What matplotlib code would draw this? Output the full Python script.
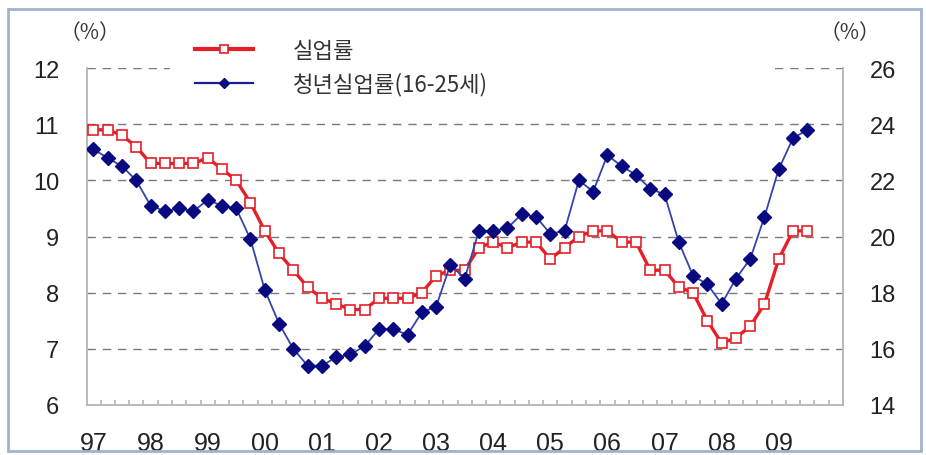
import matplotlib
matplotlib.use("Agg")
import matplotlib.pyplot as plt
from matplotlib.patches import Rectangle
from matplotlib.lines import Line2D
import numpy as np

# ---- data (quarterly, 1997Q1 - 2009Q3) ----
year_labels = ['97', '98', '99', '00', '01', '02', '03', '04', '05', '06', '07', '08', '09']
unemp = [10.9, 10.9, 10.8, 10.6, 10.3, 10.3, 10.3, 10.3, 10.4, 10.2, 10.0, 9.6,
         9.1, 8.7, 8.4, 8.1, 7.9, 7.8, 7.7, 7.7, 7.9, 7.9, 7.9, 8.0,
         8.3, 8.4, 8.4, 8.8, 8.9, 8.8, 8.9, 8.9, 8.6, 8.8, 9.0, 9.1,
         9.1, 8.9, 8.9, 8.4, 8.4, 8.1, 8.0, 7.5, 7.1, 7.2, 7.4, 7.8,
         8.6, 9.1, 9.1]
youth = [23.1, 22.8, 22.5, 22.0, 21.1, 20.9, 21.0, 20.9, 21.3, 21.1, 21.0, 19.9,
         18.1, 16.9, 16.0, 15.4, 15.4, 15.7, 15.8, 16.1, 16.7, 16.7, 16.5, 17.3,
         17.5, 19.0, 18.5, 20.2, 20.2, 20.3, 20.8, 20.7, 20.1, 20.2, 22.0, 21.6,
         22.9, 22.5, 22.2, 21.7, 21.5, 19.8, 18.6, 18.3, 17.6, 18.5, 19.2, 20.7,
         22.4, 23.5, 23.8]
label_unemp = '실업률'
label_youth = '청년실업률(16-25세)'
left_ticks = [6, 7, 8, 9, 10, 11, 12]
right_ticks = [14, 16, 18, 20, 22, 24, 26]

W, H = 926, 456
fig = plt.figure(figsize=(W / 100, H / 100), dpi=100)
fig.patch.set_facecolor('white')

L, R, T, B = 87, 843, 69, 406
ax = fig.add_axes([L / W, (H - B) / H, (R - L) / W, (B - T) / H])
ax2 = ax.twinx()

x = np.arange(len(unemp))
ax.set_xlim(-0.45, 52.5)
ax.set_ylim(6, 12)
ax2.set_ylim(14, 26)

red = '#e61e28'
ax.plot(x, unemp, color=red, lw=2.4, marker='s', ms=7.5, mfc='white',
        mec=red, mew=1.2, zorder=3)
ax2.plot(x, youth, color='#3444a8', lw=1.3, marker='D', ms=7, mfc='#0a0a80',
         mec='#0a0a80', zorder=3)

# grid
for v in left_ticks[1:]:
    ax.axhline(v, color='#7a7a7a', lw=1.0, ls=(0, (6, 5)), zorder=1)

# spines
gray = '#b4b4b4'
for s in ['left', 'right', 'bottom']:
    ax.spines[s].set_color(gray)
    ax.spines[s].set_linewidth(1.3)
ax.spines['top'].set_visible(False)
for s in ax2.spines.values():
    s.set_visible(False)

num_font = 'Liberation Sans'
ax.set_yticks(left_ticks)
ax.set_yticklabels([str(v) for v in left_ticks], fontsize=17, family=num_font, color='#222222')
ax.tick_params(axis='y', length=0, pad=20)
ax2.set_yticks(right_ticks)
ax2.set_yticklabels([str(v) for v in right_ticks], fontsize=17, family=num_font, color='#222222')
ax2.tick_params(axis='y', length=0, pad=19)

ax.set_xticks(np.arange(0, 4 * len(year_labels), 4))
ax.set_xticklabels(year_labels, fontsize=18, family=num_font, color='#222222')
ax.set_xticks(np.arange(0.5, 52, 1), minor=True)
ax.tick_params(axis='x', which='major', length=0, pad=19)
ax.tick_params(axis='x', which='minor', direction='in', length=3.5, width=1.2, color=gray)

# unit labels
cjk = ['Noto Sans CJK KR', 'DejaVu Sans']
fig.text(90 / W, (H - 33) / H, '（%）', ha='center', va='center', fontsize=15,
         family=cjk, color='#333333')
fig.text(850 / W, (H - 33) / H, '（%）', ha='center', va='center', fontsize=15,
         family=cjk, color='#333333')

# white patch behind legend covering top grid line
fig.patches.append(Rectangle((170 / W, (H - 105) / H), (774 - 170) / W, 70 / H,
                             transform=fig.transFigure, facecolor='white',
                             edgecolor='none', zorder=1))

handles = [Line2D([], [], color=red, lw=3, marker='s', ms=6, mfc='white', mec=red, mew=1.2),
           Line2D([], [], color='#1a2090', lw=1.6, marker='D', ms=5, mfc='#0a0a80', mec='#0a0a80')]
leg = fig.legend(handles, [label_unemp, label_youth], loc='center left',
                 bbox_to_anchor=(195 / W, (H - 68.5) / H), frameon=False,
                 prop={'family': cjk, 'size': 16}, handlelength=2.6,
                 handletextpad=1.8, labelspacing=0.45, borderpad=0, borderaxespad=0)
for t in leg.get_texts():
    t.set_color('#333333')

# outer border
fig.patches.append(Rectangle((8 / W, 4 / H), (921 - 8) / W, (446 - 4) / H,
                             transform=fig.transFigure, facecolor='none',
                             edgecolor='#9fb3cc', lw=2, zorder=0))

fig.savefig('out.png', dpi=100)
